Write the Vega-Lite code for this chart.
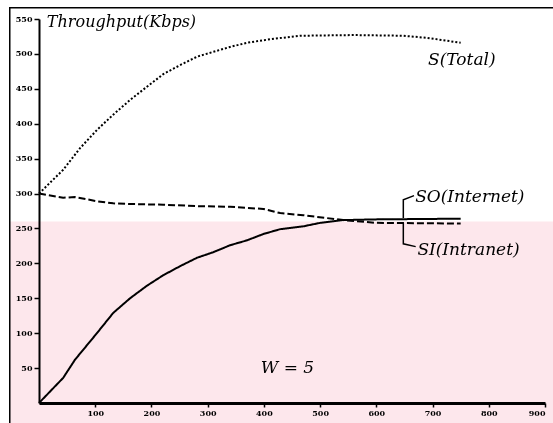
{
  "$schema": "https://vega.github.io/schema/vega-lite/v6.json",
  "width": 506,
  "height": 384,
  "autosize": {"type": "none"},
  "padding": {"left": 39, "top": 19, "right": 8, "bottom": 20},
  "background": "white",
  "config": {
    "view": {"stroke": null},
    "axis": {"grid": false, "title": null, "domainColor": "black", "tickColor": "black", "labelColor": "black", "labelFont": "DejaVu Serif", "labelFontWeight": "bold", "labelFontSize": 8, "labelOverlap": false},
    "axisY": {"labelOverlap": false, "labelBound": false, "labelFlush": false}
  },
  "datasets": {
    "curves": [
      {"t": 0, "v": 300, "series": "S(Total)"},
      {"t": 43, "v": 334, "series": "S(Total)"},
      {"t": 73, "v": 365, "series": "S(Total)"},
      {"t": 103, "v": 391, "series": "S(Total)"},
      {"t": 132, "v": 413, "series": "S(Total)"},
      {"t": 162, "v": 434, "series": "S(Total)"},
      {"t": 192, "v": 453, "series": "S(Total)"},
      {"t": 221, "v": 471, "series": "S(Total)"},
      {"t": 251, "v": 484, "series": "S(Total)"},
      {"t": 281, "v": 496, "series": "S(Total)"},
      {"t": 310, "v": 503, "series": "S(Total)"},
      {"t": 340, "v": 510, "series": "S(Total)"},
      {"t": 370, "v": 516, "series": "S(Total)"},
      {"t": 411, "v": 521, "series": "S(Total)"},
      {"t": 464, "v": 526, "series": "S(Total)"},
      {"t": 559, "v": 527, "series": "S(Total)"},
      {"t": 648, "v": 526, "series": "S(Total)"},
      {"t": 690, "v": 523, "series": "S(Total)"},
      {"t": 750, "v": 516, "series": "S(Total)"},
      {"t": 0, "v": 300, "series": "SO(Internet)"},
      {"t": 43, "v": 294, "series": "SO(Internet)"},
      {"t": 64, "v": 295, "series": "SO(Internet)"},
      {"t": 103, "v": 289, "series": "SO(Internet)"},
      {"t": 132, "v": 286, "series": "SO(Internet)"},
      {"t": 162, "v": 285, "series": "SO(Internet)"},
      {"t": 221, "v": 284, "series": "SO(Internet)"},
      {"t": 281, "v": 282, "series": "SO(Internet)"},
      {"t": 340, "v": 281, "series": "SO(Internet)"},
      {"t": 399, "v": 278, "series": "SO(Internet)"},
      {"t": 429, "v": 272, "series": "SO(Internet)"},
      {"t": 470, "v": 269, "series": "SO(Internet)"},
      {"t": 541, "v": 262, "series": "SO(Internet)"},
      {"t": 600, "v": 258, "series": "SO(Internet)"},
      {"t": 750, "v": 257, "series": "SO(Internet)"},
      {"t": 0, "v": 0, "series": "SI(Intranet)"},
      {"t": 43, "v": 36, "series": "SI(Intranet)"},
      {"t": 64, "v": 62, "series": "SI(Intranet)"},
      {"t": 103, "v": 100, "series": "SI(Intranet)"},
      {"t": 132, "v": 129, "series": "SI(Intranet)"},
      {"t": 162, "v": 150, "series": "SI(Intranet)"},
      {"t": 192, "v": 168, "series": "SI(Intranet)"},
      {"t": 221, "v": 183, "series": "SI(Intranet)"},
      {"t": 251, "v": 196, "series": "SI(Intranet)"},
      {"t": 281, "v": 208, "series": "SI(Intranet)"},
      {"t": 310, "v": 216, "series": "SI(Intranet)"},
      {"t": 340, "v": 226, "series": "SI(Intranet)"},
      {"t": 370, "v": 233, "series": "SI(Intranet)"},
      {"t": 399, "v": 242, "series": "SI(Intranet)"},
      {"t": 429, "v": 249, "series": "SI(Intranet)"},
      {"t": 470, "v": 253, "series": "SI(Intranet)"},
      {"t": 500, "v": 258, "series": "SI(Intranet)"},
      {"t": 541, "v": 262, "series": "SI(Intranet)"},
      {"t": 600, "v": 263, "series": "SI(Intranet)"},
      {"t": 750, "v": 264, "series": "SI(Intranet)"}
    ],
    "leaders": [
      {"i": 1, "t": 667, "v": 297, "id": "SO"},
      {"i": 2, "t": 648, "v": 291, "id": "SO"},
      {"i": 3, "t": 648, "v": 265, "id": "SO"},
      {"i": 1, "t": 648, "v": 258, "id": "SI"},
      {"i": 2, "t": 648, "v": 228, "id": "SI"},
      {"i": 3, "t": 670, "v": 224, "id": "SI"}
    ]
  },
  "layer": [
    {
      "data": {"name": "curves"},
      "mark": {"type": "line", "color": "black", "strokeWidth": 2},
      "encoding": {
        "x": {"field": "t", "type": "quantitative", "scale": {"domain": [0, 900], "nice": false, "zero": false}, "axis": {"values": [100, 200, 300, 400, 500, 600, 700, 800, 900], "domainWidth": 3, "tickSize": 4, "tickWidth": 1.5, "labelPadding": 2, "labelOverlap": false, "zindex": 1}},
        "y": {"field": "v", "type": "quantitative", "scale": {"domain": [0, 550], "nice": false, "zero": false}, "axis": {"values": [50, 100, 150, 200, 250, 300, 350, 400, 450, 500, 550], "tickCount": 11, "domainWidth": 2, "tickSize": 5, "tickWidth": 1.5, "labelPadding": 2, "labelOverlap": false, "labelSeparation": 0, "zindex": 1}},
        "detail": {"field": "series"},
        "strokeDash": {"field": "series", "type": "nominal", "scale": {"domain": ["S(Total)", "SO(Internet)", "SI(Intranet)"], "range": [[2, 2], [7, 3], [1, 0]]}, "legend": null}
      }
    },
    {
      "data": {"values": [{}]},
      "mark": {"type": "rect", "fill": "#fde7ec", "blend": "multiply", "clip": false},
      "encoding": {
        "x": {"datum": -52, "type": "quantitative"},
        "x2": {"datum": 920},
        "y": {"datum": -35, "type": "quantitative"},
        "y2": {"datum": 260}
      }
    },
    {
      "data": {"values": [{}]},
      "mark": {"type": "rect", "fill": null, "stroke": "black", "strokeWidth": 1.5, "clip": false},
      "encoding": {
        "x": {"datum": -52, "type": "quantitative"},
        "x2": {"datum": 920},
        "y": {"datum": -35, "type": "quantitative"},
        "y2": {"datum": 566}
      }
    },
    {
      "data": {"name": "leaders"},
      "mark": {"type": "line", "color": "black", "strokeWidth": 1.5},
      "encoding": {
        "x": {"field": "t", "type": "quantitative"},
        "y": {"field": "v", "type": "quantitative"},
        "detail": {"field": "id"},
        "order": {"field": "i"}
      }
    },
    {
      "data": {"values": [{}]},
      "mark": {"type": "text", "align": "left", "baseline": "middle", "font": "DejaVu Serif", "fontStyle": "italic", "fontSize": 16, "color": "black"},
      "encoding": {"x": {"datum": 14, "type": "quantitative"}, "y": {"datum": 545, "type": "quantitative"}, "text": {"value": "Throughput(Kbps)"}}
    },
    {
      "data": {"values": [{}]},
      "mark": {"type": "text", "align": "left", "baseline": "middle", "font": "DejaVu Serif", "fontStyle": "italic", "fontSize": 17, "color": "black"},
      "encoding": {"x": {"datum": 692, "type": "quantitative"}, "y": {"datum": 491, "type": "quantitative"}, "text": {"value": "S(Total)"}}
    },
    {
      "data": {"values": [{}]},
      "mark": {"type": "text", "align": "left", "baseline": "middle", "font": "DejaVu Serif", "fontStyle": "italic", "fontSize": 17, "color": "black"},
      "encoding": {"x": {"datum": 669, "type": "quantitative"}, "y": {"datum": 295, "type": "quantitative"}, "text": {"value": "SO(Internet)"}}
    },
    {
      "data": {"values": [{}]},
      "mark": {"type": "text", "align": "left", "baseline": "middle", "font": "DejaVu Serif", "fontStyle": "italic", "fontSize": 17, "color": "black"},
      "encoding": {"x": {"datum": 673, "type": "quantitative"}, "y": {"datum": 219, "type": "quantitative"}, "text": {"value": "SI(Intranet)"}}
    },
    {
      "data": {"values": [{}]},
      "mark": {"type": "text", "align": "center", "baseline": "middle", "font": "DejaVu Serif", "fontStyle": "italic", "fontSize": 17, "color": "black"},
      "encoding": {"x": {"datum": 442, "type": "quantitative"}, "y": {"datum": 50, "type": "quantitative"}, "text": {"value": "W = 5"}}
    }
  ]
}
